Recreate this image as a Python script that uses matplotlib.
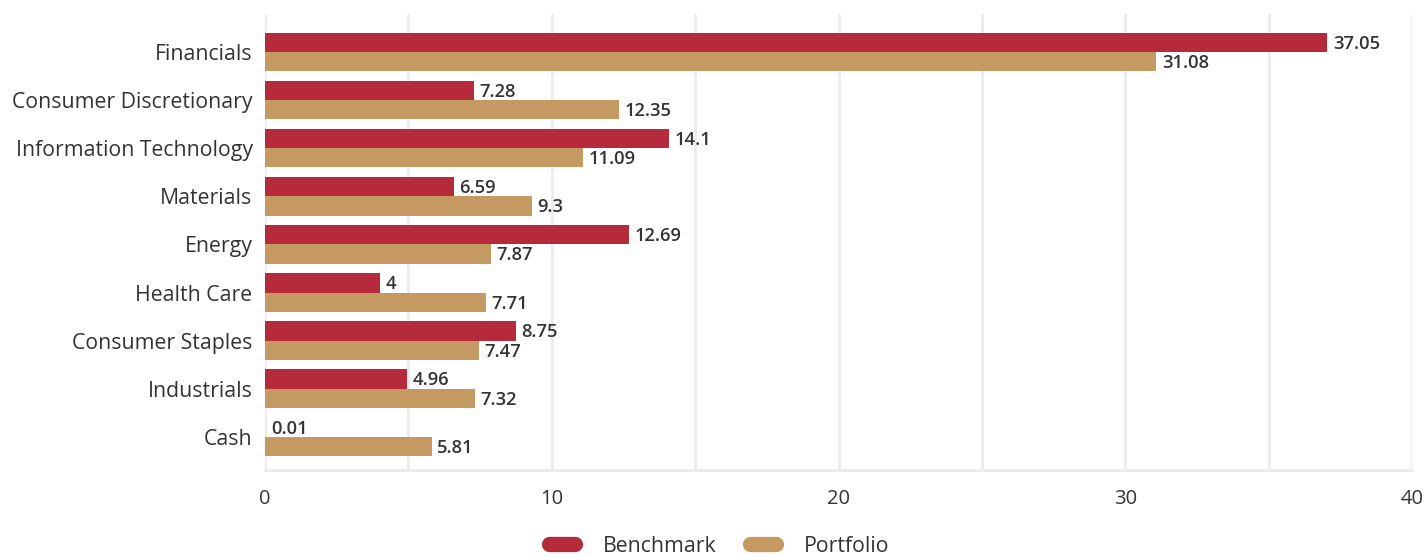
import matplotlib
matplotlib.use("Agg")
import matplotlib.pyplot as plt
import numpy as np
from matplotlib.lines import Line2D

plt.rcParams['font.family'] = ['Open Sans', 'DejaVu Sans']

categories = ["Financials", "Consumer Discretionary", "Information Technology", "Materials",
              "Energy", "Health Care", "Consumer Staples", "Industrials", "Cash"]
benchmark = [37.05, 7.28, 14.1, 6.59, 12.69, 4, 8.75, 4.96, 0.01]
portfolio = [31.08, 12.35, 11.09, 9.3, 7.87, 7.71, 7.47, 7.32, 5.81]
series_names = ["Benchmark", "Portfolio"]
colors = ["#b52b3b", "#c49a62"]
xticks = [0, 10, 20, 30, 40]

fig = plt.figure(figsize=(14.25, 5.56), dpi=100)
ax = fig.add_axes([265/1425, 1 - 470/556, (1412-265)/1425, (470-14)/556])

n = len(categories)
y = np.arange(n)
h = 0.40
ax.barh(y - h/2, benchmark, height=h, color=colors[0], zorder=3)
ax.barh(y + h/2, portfolio, height=h, color=colors[1], zorder=3)

for yy, vals in ((y - h/2, benchmark), (y + h/2, portfolio)):
    for yi, v in zip(yy, vals):
        ax.annotate(f"{v:g}", (v, yi), xytext=(4, -1), textcoords="offset points",
                    va="center", ha="left", fontsize=13.2, fontweight="semibold", color="#333333")

ax.set_ylim(n - 1 + 0.69, -0.79)
ax.set_xlim(0, 40)
ax.set_yticks(y)
ax.set_yticklabels(categories, fontsize=15.3, color="#333333")
ax.set_xticks(xticks)
ax.set_xticklabels([str(t) for t in xticks], fontsize=14.5, color="#333333")
ax.set_xticks(np.arange(0, 41, 5), minor=True)
ax.tick_params(axis='both', which='both', length=0)
ax.tick_params(axis='x', pad=14)
ax.tick_params(axis='y', pad=9)
ax.grid(axis='x', which='both', color="#ebebef", linewidth=2, zorder=0)
for s in ["top", "right", "left"]:
    ax.spines[s].set_visible(False)
ax.spines["bottom"].set_color("#ebebef")
ax.spines["bottom"].set_linewidth(2)

handles = [Line2D([0], [0], color=c, linewidth=11, solid_capstyle='round') for c in colors]
fig.legend(handles, series_names, loc="center", bbox_to_anchor=(719/1425, 1 - 546/556),
           ncol=2, frameon=False, fontsize=15.3, handlelength=1.25, columnspacing=1.57,
           handletextpad=1.3, labelcolor="#333333")

fig.savefig("out.png", dpi=100, facecolor="white")
